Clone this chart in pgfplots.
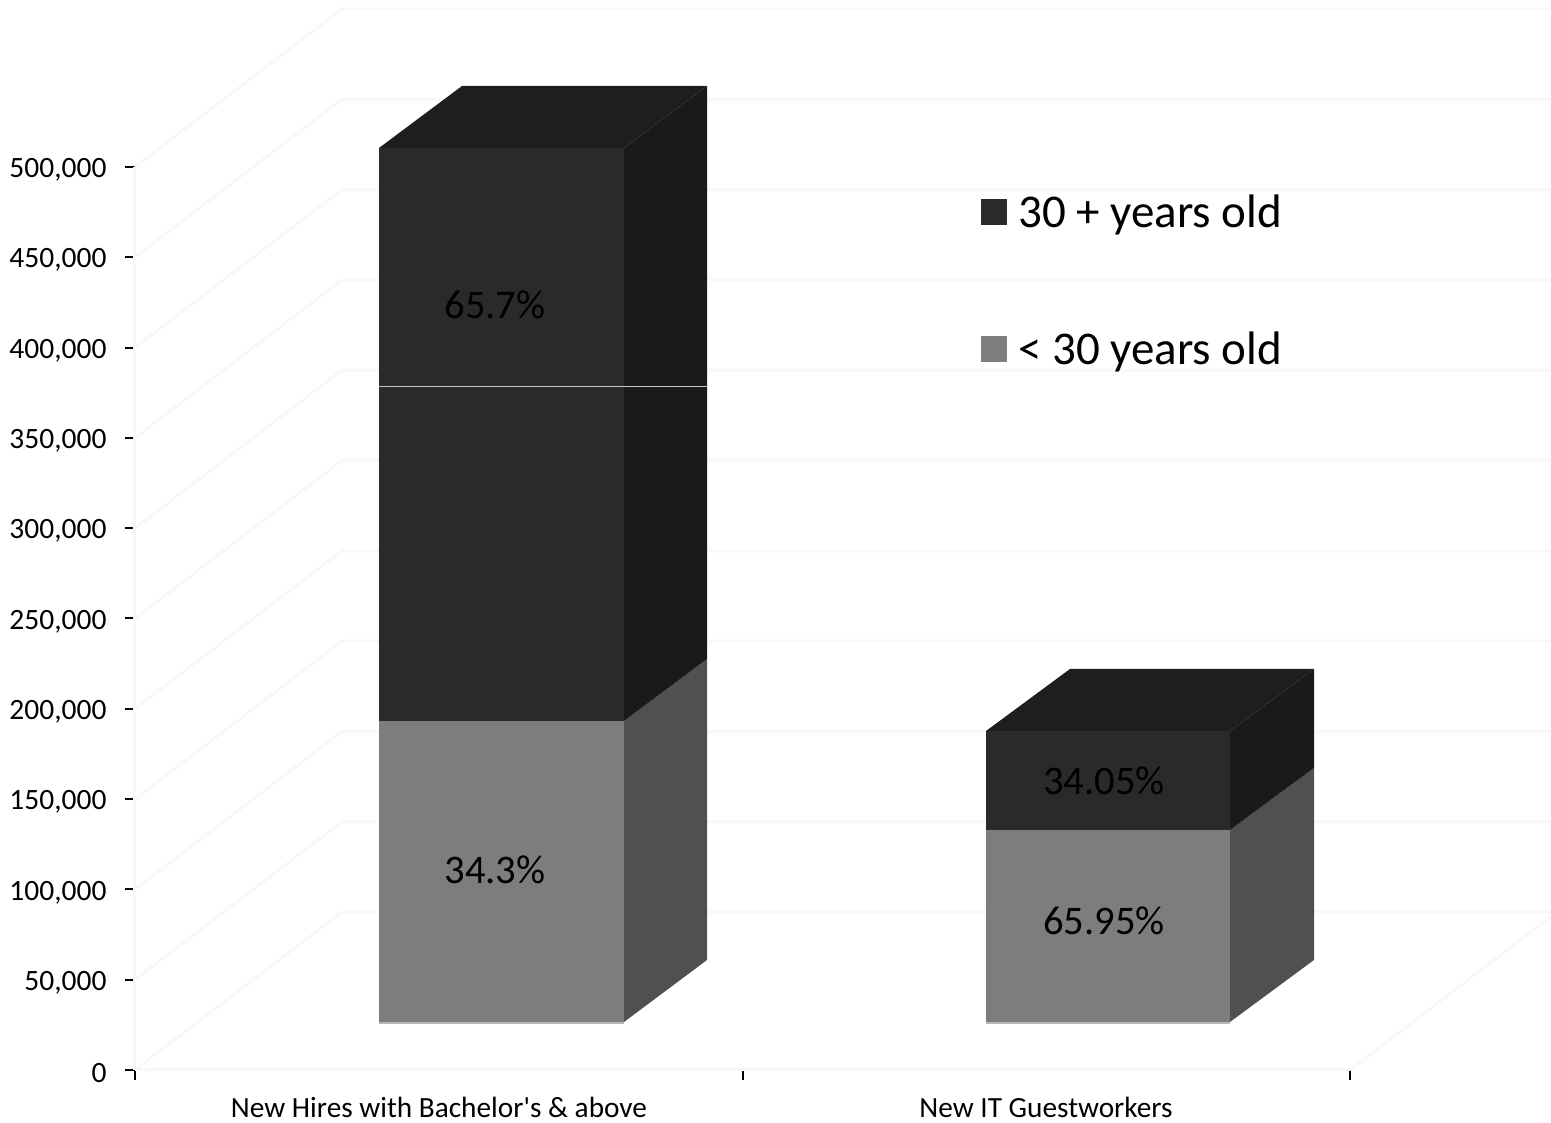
\documentclass[border=0pt]{standalone}
\usepackage{fontspec}
\setmainfont{Carlito}
\newfontfamily\cb{Carlito}
\usepackage{pgfplots}
\pgfplotsset{compat=1.18}
\definecolor{gridc}{HTML}{F8F8F8}
\definecolor{dkfront}{HTML}{2A2A2A}
\definecolor{dkside}{HTML}{1A1A1A}
\definecolor{dktop}{HTML}{1E1E1E}
\definecolor{ltfront}{HTML}{7D7D7D}
\definecolor{ltside}{HTML}{505050}
\begin{document}
\begin{tikzpicture}
\useasboundingbox (-135pt,-53pt) rectangle (1416pt,1070pt);
\begin{axis}[
  at={(0,0)}, anchor=south west,
  width=1215pt, height=903pt, scale only axis,
  xmin=135, xmax=1350, ymin=0, ymax=500000,
  clip=false,
  unbounded coords=jump,
  axis x line=bottom, axis y line=left,
  axis line style={draw=gridc, line width=3pt, -},
  tick style={black, line width=2pt},
  major tick length=10pt,
  tick align=outside,
  xtick={135,743,1350},
  xticklabels={,,},
  extra x ticks={439,1046},
  extra x tick labels={New Hires with Bachelor's \& above, New IT Guestworkers},
  extra x tick style={major tick length=0pt, tick style={draw=none},
    xticklabel style={font=\cb\fontsize{29.3}{31}\selectfont, text=black, anchor=north, yshift=-24pt}},
  ytick={0,50000,100000,150000,200000,250000,300000,350000,400000,450000,500000},
  scaled y ticks=false,
  /pgf/number format/assume math mode=true,
  /pgf/number format/fixed,
  /pgf/number format/1000 sep={,},
  yticklabel style={font=\cb\fontsize{29.5}{30}\selectfont, text=black, xshift=-15pt, yshift=-3pt},
  legend style={draw=none, fill=none, at={(axis cs:981,486000)}, anchor=north west,
    font=\cb\fontsize{47}{49}\selectfont, row sep=99pt, column sep=9pt, inner sep=0pt},
  legend cell align=left,
  legend image code/.code={\fill[#1, draw=none] (0pt,-13pt) rectangle (26pt,13pt);},
]
% gridlines: back wall and left wall
\addplot[forget plot, gridc, line width=3pt] coordinates {
 (135,0)(342,87500)(1551,87500) (135,nan)
 (135,50000)(342,137500)(1551,137500) (135,nan)
 (135,100000)(342,187500)(1551,187500) (135,nan)
 (135,150000)(342,237500)(1551,237500) (135,nan)
 (135,200000)(342,287500)(1551,287500) (135,nan)
 (135,250000)(342,337500)(1551,337500) (135,nan)
 (135,300000)(342,387500)(1551,387500) (135,nan)
 (135,350000)(342,437500)(1551,437500) (135,nan)
 (135,400000)(342,487500)(1551,487500) (135,nan)
 (135,450000)(342,537500)(1551,537500) (135,nan)
 (135,500000)(342,587500)(1551,587500) (135,nan)
 (1350,0)(1551,85000)
};
% bar 1, under 30
\addplot[forget plot, fill=ltfront, draw=none] coordinates {(379,26578)(624,26578)(624,193245)(379,193245)};
\addplot[forget plot, fill=ltside, draw=none] coordinates {(624,26578)(707,60908)(707,227575)(624,193245)};
% bar 1, 30 and over
\addplot[forget plot, fill=dkfront, draw=none] coordinates {(379,193245)(624,193245)(624,510520)(379,510520)};
\addplot[forget plot, fill=dkside, draw=none] coordinates {(624,193245)(707,227575)(707,544850)(624,510520)};
\addplot[forget plot, fill=dktop, draw=none] coordinates {(379,510520)(624,510520)(707,544850)(462,544850)};
\addplot[forget plot, color=black!22, line width=1.2pt] coordinates {(379,378300)(707,378300)};
% bar 2, under 30
\addplot[forget plot, fill=ltfront, draw=none] coordinates {(986,26578)(1230,26578)(1230,132890)(986,132890)};
\addplot[forget plot, fill=ltside, draw=none] coordinates {(1230,26578)(1314,60908)(1314,167220)(1230,132890)};
% bar 2, 30 and over
\addplot[forget plot, fill=dkfront, draw=none] coordinates {(986,132890)(1230,132890)(1230,187706)(986,187706)};
\addplot[forget plot, fill=dkside, draw=none] coordinates {(1230,132890)(1314,167220)(1314,222038)(1230,187706)};
\addplot[forget plot, fill=dktop, draw=none] coordinates {(986,187706)(1230,187706)(1314,222038)(1070,222038)};
% bottom edges
\addplot[forget plot, color=black!28, line width=2pt] coordinates {(379,26000)(624,26000)};
\addplot[forget plot, color=black!28, line width=2pt] coordinates {(986,26000)(1230,26000)};
% legend
\addlegendimage{fill=dkfront}
\addlegendentry{30 + years old}
\addlegendimage{fill=ltfront}
\addlegendentry{< 30 years old}
% data labels
\node[font=\cb\fontsize{40.6}{42}\selectfont, text=black] at (axis cs:495,423700) {65.7\%};
\node[font=\cb\fontsize{40.6}{42}\selectfont, text=black] at (axis cs:495,111000) {34.3\%};
\node[font=\cb\fontsize{40.6}{42}\selectfont, text=black] at (axis cs:1104,160000) {34.05\%};
\node[font=\cb\fontsize{40.6}{42}\selectfont, text=black] at (axis cs:1104,82500) {65.95\%};
\end{axis}
\end{tikzpicture}
\end{document}
